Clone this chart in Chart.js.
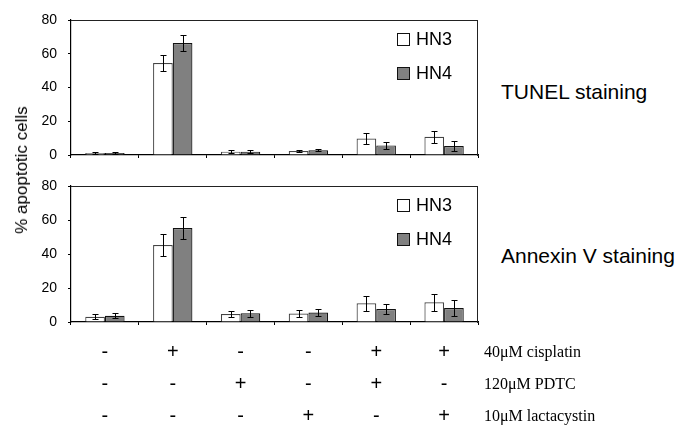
<!DOCTYPE html>
<html>
<head>
<meta charset="utf-8">
<script src="https://cdn.jsdelivr.net/npm/chart.js@4.4.1/dist/chart.umd.min.js"></script>
<style>
  body { margin: 0; background: #fff; }
  #wrap { position: relative; width: 685px; height: 427px; font-family: "Liberation Sans", Arial, sans-serif; color: #000; }
  .box { position: absolute; }
  .frame { position: absolute; left: 71px; width: 406px; border-top: 1px solid #222; border-right: 1px solid #222; pointer-events: none; }
  .side { position: absolute; left: 501px; font-size: 21px; transform: translateY(-50%); white-space: nowrap; }
  .row { position: absolute; left: 484px; font-family: "Liberation Serif", "Times New Roman", serif; font-size: 16px; transform: translateY(-50%); white-space: nowrap; }
  #ytitle { position: absolute; left: 22px; top: 170px; font-size: 17px; white-space: nowrap; transform: translate(-50%, -50%) rotate(-90deg); }
</style>
</head>
<body>
<div id="wrap">
  <div class="box" style="left:0;top:0;width:490px;height:175px"><canvas id="tunel"></canvas></div>
  <div class="box" style="left:0;top:165px;width:490px;height:262px"><canvas id="annexin"></canvas></div>
  <div class="frame" style="top:20px;height:135px"></div>
  <div class="frame" style="top:186px;height:136px"></div>
  <div id="ytitle">% apoptotic cells</div>
  <div class="side" style="top:92px">TUNEL staining</div>
  <div class="side" style="top:256px">Annexin V staining</div>
  <div class="row" style="top:352px">40μM cisplatin</div>
  <div class="row" style="top:384px">120μM PDTC</div>
  <div class="row" style="top:416px">10μM lactacystin</div>
</div>
<script>
// treatment combos (cisplatin / PDTC / lactacystin)
const cisplatin   = ['-', '+', '-', '-', '+', '+'];
const pdtc        = ['-', '-', '+', '-', '+', '-'];
const lactacystin = ['-', '-', '-', '+', '-', '+'];
const labels = cisplatin.map((c, i) => [c, pdtc[i], lactacystin[i]]);

const seriesNames = ['HN3', 'HN4'];
const yTicks = [0, 20, 40, 60, 80];

// TUNEL staining
const tunelHN3    = [1.2, 54.5, 2.0, 2.4, 9.8, 10.8];
const tunelHN3Err = [0.5, 5.0, 0.8, 0.5, 3.5, 3.7];
const tunelHN4    = [1.2, 66.3, 2.0, 2.8, 5.7, 5.3];
const tunelHN4Err = [0.6, 4.9, 0.8, 0.5, 2.0, 3.1];

// Annexin V staining
const annexinHN3    = [3.1, 45.3, 4.7, 5.0, 11.0, 11.6];
const annexinHN3Err = [1.4, 6.3, 2.0, 2.3, 4.5, 4.9];
const annexinHN4    = [3.7, 55.3, 5.1, 5.6, 7.6, 8.2];
const annexinHN4Err = [1.4, 6.4, 2.0, 2.2, 2.7, 4.6];

const FONT = '"Liberation Sans", Arial, sans-serif';

// error bars with small caps
const errorBars = {
  id: 'errorBars',
  afterDatasetsDraw(chart) {
    const ctx = chart.ctx;
    const y = chart.scales.y;
    ctx.save();
    ctx.strokeStyle = '#000';
    ctx.lineWidth = 1;
    chart.data.datasets.forEach((ds, di) => {
      chart.getDatasetMeta(di).data.forEach((bar, i) => {
        const v = ds.data[i], e = ds.errors[i];
        const top = Math.round(y.getPixelForValue(v + e)) + 0.5;
        const bot = Math.round(y.getPixelForValue(v - e)) + 0.5;
        const x = Math.round(bar.x) + 0.5;
        ctx.beginPath();
        ctx.moveTo(x, top); ctx.lineTo(x, bot);
        ctx.moveTo(x - 3, top); ctx.lineTo(x + 3, top);
        ctx.moveTo(x - 3, bot); ctx.lineTo(x + 3, bot);
        ctx.stroke();
      });
    });
    ctx.restore();
  }
};

// legend inside the plot (top right)
const innerLegend = {
  id: 'innerLegend',
  afterDraw(chart) {
    const ctx = chart.ctx;
    const a = chart.chartArea;
    ctx.save();
    ctx.font = '18px ' + FONT;
    ctx.textBaseline = 'middle';
    ctx.lineWidth = 1;
    chart.data.datasets.forEach((ds, i) => {
      const cy = a.top + 19 + i * 34;
      const bx = a.right - 81;
      ctx.fillStyle = ds.backgroundColor;
      ctx.fillRect(bx, cy - 6, 13, 13);
      ctx.strokeStyle = '#111';
      ctx.strokeRect(bx + 0.5, cy - 5.5, 12, 12);
      ctx.fillStyle = '#000';
      ctx.fillText(ds.label, bx + 19, cy + 1);
    });
    ctx.restore();
  }
};

function makeChart(id, hn3, hn3Err, hn4, hn4Err, padTop, xHeight, showLabels) {
  return new Chart(document.getElementById(id), {
    type: 'bar',
    data: {
      labels: labels,
      datasets: [
        { label: seriesNames[0], data: hn3, errors: hn3Err, backgroundColor: '#ffffff', borderColor: '#444', borderWidth: 1.2 },
        { label: seriesNames[1], data: hn4, errors: hn4Err, backgroundColor: '#808080', borderColor: '#111', borderWidth: 1.2 }
      ]
    },
    options: {
      responsive: true,
      maintainAspectRatio: false,
      animation: false,
      datasets: { bar: { categoryPercentage: 0.58, barPercentage: 1.0 } },
      layout: { padding: { top: padTop, right: 12, left: 0, bottom: 0 } },
      plugins: { legend: { display: false }, tooltip: { enabled: false } },
      scales: {
        x: {
          grid: { display: true, drawOnChartArea: false, tickLength: 3, color: '#000' },
          border: { color: '#000', width: 1.2 },
          ticks: { display: showLabels, color: '#000', padding: 11, font: { family: FONT, size: 20, lineHeight: 1.6 }, maxRotation: 0 },
          afterFit: (s) => { s.height = xHeight; }
        },
        y: {
          min: 0, max: 80,
          afterBuildTicks: (s) => { s.ticks = yTicks.map(v => ({ value: v })); },
          grid: { display: true, drawOnChartArea: false, tickLength: 3, color: '#000' },
          border: { color: '#000', width: 1.2 },
          ticks: { color: '#000', padding: 11, font: { family: FONT, size: 14 } },
          afterFit: (s) => { s.width = 71; }
        }
      }
    },
    plugins: [errorBars, innerLegend]
  });
}

makeChart('tunel', tunelHN3, tunelHN3Err, tunelHN4, tunelHN4Err, 20, 20, false);
makeChart('annexin', annexinHN3, annexinHN3Err, annexinHN4, annexinHN4Err, 21, 105, true);
</script>
</body>
</html>
